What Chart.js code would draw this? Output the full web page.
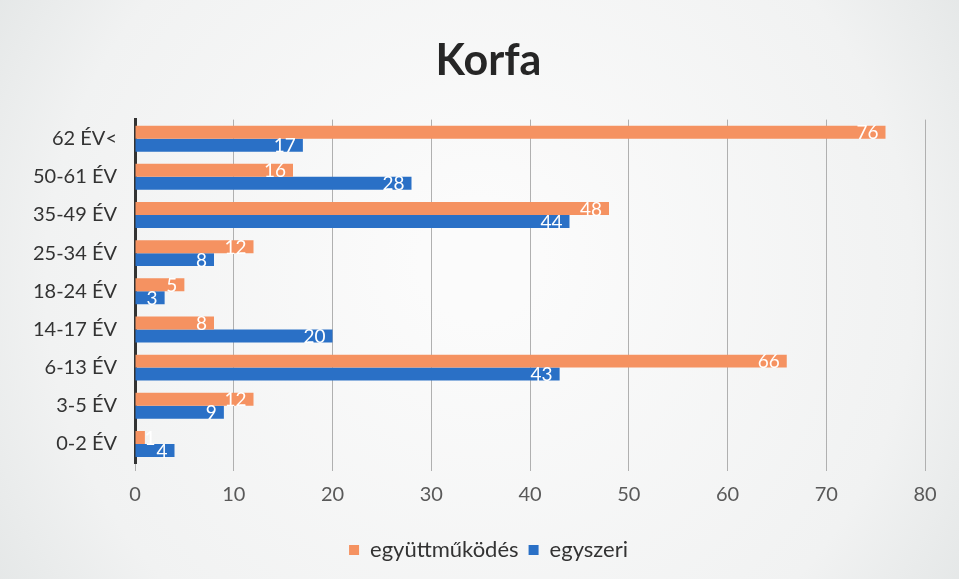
<!DOCTYPE html>
<html>
<head>
<meta charset="utf-8">
<script src="https://cdn.jsdelivr.net/npm/chart.js@4.4.1/dist/chart.umd.min.js"></script>
<style>
  html, body { margin: 0; padding: 0; background: #eceeee; }
  #wrap { width: 959px; height: 579px; }
</style>
</head>
<body>
<div id="wrap"><canvas id="korfaChart" width="959" height="579"></canvas></div>
<script>
// age groups, top to bottom as in the picture
const ageGroups = ["62 ÉV<", "50-61 ÉV", "35-49 ÉV", "25-34 ÉV", "18-24 ÉV", "14-17 ÉV", "6-13 ÉV", "3-5 ÉV", "0-2 ÉV"];
const egyuttmukodes = [76, 16, 48, 12, 5, 8, 66, 12, 1];
const egyszeri = [17, 28, 44, 8, 3, 20, 43, 9, 4];
const xTicks = [0, 10, 20, 30, 40, 50, 60, 70, 80];

const FONT = "Lato, 'Open Sans', sans-serif";

// scanned-paper look: whiter middle, greyer edges
const paperBackground = {
  id: "paperBackground",
  beforeDraw(chart) {
    const { ctx, width, height } = chart;
    const g = ctx.createRadialGradient(width * 0.5, height * 0.45, 60, width * 0.5, height * 0.5, width * 0.62);
    g.addColorStop(0, "#fbfbfb");
    g.addColorStop(0.7, "#f1f2f2");
    g.addColorStop(1, "#e2e5e5");
    ctx.save();
    ctx.fillStyle = g;
    ctx.fillRect(0, 0, width, height);
    ctx.restore();
  },
};

// title and legend sit a bit right of the canvas centre in the original
const shiftBlocks = {
  id: "shiftBlocks",
  afterLayout(chart) {
    [chart.titleBlock, chart.legend].forEach((b) => {
      if (b) {
        b.left += 26;
        b.right += 26;
      }
    });
  },
};

// white value labels at the inside end of each bar
const valueLabels = {
  id: "valueLabels",
  afterDatasetsDraw(chart) {
    const ctx = chart.ctx;
    ctx.save();
    ctx.font = "19px " + FONT;
    ctx.fillStyle = "#ffffff";
    ctx.textAlign = "right";
    ctx.textBaseline = "middle";
    chart.data.datasets.forEach((ds, i) => {
      chart.getDatasetMeta(i).data.forEach((bar, j) => {
        const txt = String(ds.data[j]);
        const w = ctx.measureText(txt).width;
        const x = Math.max(bar.x - 7, bar.base + w + 9);
        ctx.fillText(txt, x, bar.y + 1);
      });
    });
    ctx.restore();
  },
};

const ctx = document.getElementById("korfaChart").getContext("2d");

new Chart(ctx, {
  type: "bar",
  data: {
    labels: ageGroups,
    datasets: [
      {
        label: "együttműködés",
        data: egyuttmukodes,
        backgroundColor: "#f59261",
        categoryPercentage: 0.68,
        barPercentage: 1.0,
      },
      {
        label: "egyszeri",
        data: egyszeri,
        backgroundColor: "#2a70c6",
        categoryPercentage: 0.68,
        barPercentage: 1.0,
      },
    ],
  },
  options: {
    indexAxis: "y",
    responsive: false,
    animation: false,
    layout: { padding: { top: 10, right: 34, bottom: 8, left: 0 } },
    plugins: {
      title: {
        display: true,
        text: "Korfa",
        color: "#262626",
        font: { family: FONT, size: 43, weight: "bold" },
        padding: { top: 25, bottom: 33 },
      },
      legend: {
        position: "bottom",
        labels: {
          color: "#333333",
          font: { family: FONT, size: 22 },
          boxWidth: 10,
          boxHeight: 10,
          padding: 10,
        },
      },
      tooltip: { enabled: false },
    },
    scales: {
      x: {
        min: 0,
        max: 80,
        afterBuildTicks(scale) {
          scale.ticks = xTicks.map((v) => ({ value: v }));
        },
        afterFit(scale) {
          scale.height = 66;
        },
        grid: {
          color: "#b0b0b0",
          lineWidth: 1,
          drawTicks: true,
          tickLength: 8,
        },
        border: { display: false },
        ticks: {
          color: "#595959",
          font: { family: FONT, size: 20 },
          padding: 12,
        },
      },
      y: {
        afterFit(scale) {
          scale.width = 135;
        },
        grid: { display: false, drawTicks: false },
        border: { display: true, color: "#333333", width: 3 },
        ticks: {
          color: "#333333",
          font: { family: FONT, size: 20 },
          padding: 18,
        },
      },
    },
  },
  plugins: [paperBackground, shiftBlocks, valueLabels],
});
</script>
</body>
</html>
